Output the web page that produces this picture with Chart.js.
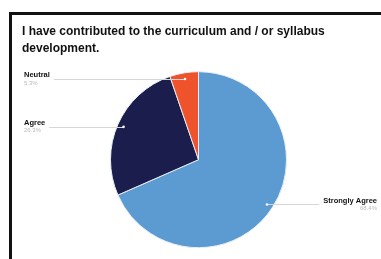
<!DOCTYPE html>
<html>
<head>
<meta charset="utf-8">
<script src="https://cdn.jsdelivr.net/npm/chart.js@4/dist/chart.umd.min.js"></script>
<style>
  html, body { margin: 0; padding: 0; background: #fff; }
  #wrap { position: relative; width: 381px; height: 259px; }
  #frame { position: absolute; left: 9px; top: 12px; right: -5px; bottom: -5px;
           border-left: 3px solid #111; border-top: 3px solid #111; }
  canvas { position: absolute; left: 0; top: 0; }
</style>
</head>
<body>
<div id="wrap">
  <div id="frame"></div>
  <canvas id="pieChart" width="381" height="259"></canvas>
</div>
<script>
// answers, clockwise from 12 o'clock
let answers = ["Strongly Agree", "Agree", "Neutral"]
let counts = [13, 5, 1]
let sliceColors = ["#5b9bd2", "#1b1e4c", "#ef532c"]
let titleLines = ["I have contributed to the curriculum and / or syllabus", "development."]

let total = counts.reduce(function (a, b) { return a + b }, 0)

// draws the name + percentage next to each slice, with a thin leader line
let sideLabels = {
    id: 'sideLabels',
    afterDatasetsDraw: function (chart) {
        let ctx = chart.ctx
        let arcs = chart.getDatasetMeta(0).data
        ctx.save()
        arcs.forEach(function (arc, i) {
            let mid = (arc.startAngle + arc.endAngle) / 2
            let r = arc.outerRadius * 0.93
            let dx = arc.x + Math.cos(mid) * r
            let dy = arc.y + Math.sin(mid) * r
            let onRight = Math.cos(mid) > 0
            let pct = (counts[i] / total * 100).toFixed(1) + '%'

            ctx.font = 'bold 7.5px "Liberation Sans", Arial, sans-serif'
            let w = ctx.measureText(answers[i]).width
            let tx = onRight ? 377 : 24
            ctx.textBaseline = 'middle'
            ctx.textAlign = onRight ? 'right' : 'left'
            ctx.fillStyle = '#111'
            ctx.fillText(answers[i], tx, dy - 4)
            ctx.font = '6px "Liberation Sans", Arial, sans-serif'
            ctx.fillStyle = '#bbb'
            ctx.fillText(pct, tx, dy + 4)

            ctx.strokeStyle = '#d6d6d6'
            ctx.lineWidth = 1
            ctx.beginPath()
            let lineEnd = onRight ? tx - w - 4 : tx + w + 4
            ctx.moveTo(lineEnd, Math.round(dy) + 0.5)
            ctx.lineTo(dx, Math.round(dy) + 0.5)
            ctx.stroke()

            ctx.fillStyle = '#fff'
            ctx.beginPath()
            ctx.arc(dx, dy, 1.3, 0, Math.PI * 2)
            ctx.fill()
        })
        ctx.restore()
    }
}

let canvs = document.getElementById('pieChart').getContext('2d')
let pieChart = new Chart(canvs, {
    type: 'pie',
    data: {
        labels: answers,
        datasets: [{
            data: counts,
            backgroundColor: sliceColors,
            borderColor: '#e8eef6',
            borderWidth: 1,
            radius: 88
        }]
    },
    options: {
        responsive: false,
        animation: false,
        layout: { padding: { left: 22, right: 6, top: 14, bottom: 9 } },
        plugins: {
            legend: { display: false },
            tooltip: { enabled: false },
            title: {
                display: true,
                text: titleLines,
                align: 'start',
                color: '#111',
                font: { family: '"Liberation Sans", Arial, sans-serif', size: 12, weight: 'bold', lineHeight: 1.35 },
                padding: { top: 10, bottom: 13 }
            }
        }
    },
    plugins: [sideLabels]
})
</script>
</body>
</html>
